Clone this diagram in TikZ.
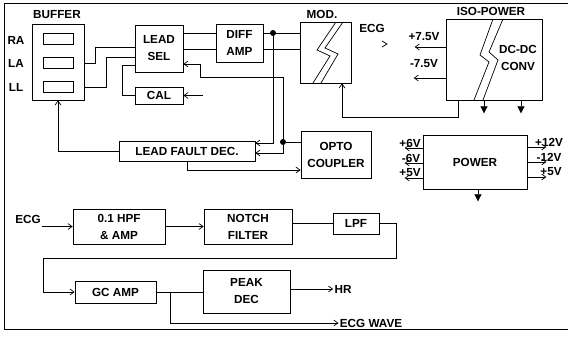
\documentclass[tikz,border=0pt]{standalone}
\usepackage{fontspec}
\setmainfont{Liberation Sans}
\usetikzlibrary{arrows.meta,calc}

\begin{document}
\begin{tikzpicture}[
    x=0.3mm, y=-0.3mm,
    % --- Styles ---
    blk/.style={draw, line width=0.6pt, inner sep=0pt, align=center,
                font=\fontsize{10}{14.5}\selectfont\bfseries},
    slot/.style={draw, line width=0.6pt, minimum width=9mm,
                 minimum height=3.4mm, inner sep=0pt},
    lbl/.style={font=\fontsize{10}{14.5}\selectfont\bfseries, inner sep=1pt},
    wire/.style={line width=0.6pt},
    arr/.style={wire, -{Straight Barb[length=3.5pt,width=5pt]}},
    pwr/.style={wire, -{Triangle[length=6pt,width=6pt]}},
    dot/.style={circle, fill, inner sep=0pt, minimum size=1.8mm},
]

% === Frame ===
\useasboundingbox (0,0) rectangle (568,340);
\draw[line width=0.8pt] (568,3) -- (4,3) -- (4,329) -- (568,329);

% === Input buffer ===
\node[lbl] (buftitle) at (57,15) {BUFFER};
\node[blk, minimum width=15.6mm, minimum height=22.8mm] (buffer) at (58,62) {};
\node[slot] (ra) at (58,39) {};
\node[slot] (la) at (58,63) {};
\node[slot] (ll) at (58,87) {};
\node[lbl] (ralbl) at (16,40) {RA};
\node[lbl] (lalbl) at (16,63) {LA};
\node[lbl] (lllbl) at (16,87) {LL};

% === Lead selection, amplifier, modulator ===
\node[blk, minimum width=14.4mm, minimum height=14.1mm] (leadsel) at (159,48.5) {LEAD\\SEL};
\node[blk, minimum width=14.4mm, minimum height=5.1mm] (cal) at (159,95.5) {CAL};
\node[blk, minimum width=14.1mm, minimum height=11.4mm] (diffamp) at (239.5,43) {DIFF\\AMP};
\node[blk, minimum width=15.3mm, minimum height=18.3mm] (mod) at (325.5,52.5) {};
\node[lbl] (modlbl) at (322,14) {MOD.};
\node[lbl] (ecgout) at (372,28) {ECG};
\draw[wire] (336,22) -- (317,50) -- (330,56) -- (313,83);
\draw[wire] (343,22) -- (325,48) -- (338,54) -- (321,83);
\draw[wire] (382,41) -- (387,44) -- (382,47);

% === Isolated supply ===
\node[blk, minimum width=28.8mm, minimum height=24.3mm] (isopower) at (494,59.5) {};
\node[lbl] (isolbl) at (491,11) {ISO-POWER};
\node[lbl, align=center] (isotext) at (518,58) {DC-DC\\CONV};
\draw[wire] (493,19) -- (480,55) -- (489,62) -- (474,100);
\draw[wire] (503,19) -- (489,52) -- (498,60) -- (483,100);
\node[lbl] (pisolbl) at (424,37) {+7.5V};
\node[lbl] (nisolbl) at (424,64) {-7.5V};

% === Fault detection and power ===
\node[blk, minimum width=40.8mm, minimum height=6mm] (leadfault) at (187,151) {LEAD FAULT DEC.};
\node[blk, minimum width=21mm, minimum height=14.1mm] (opto) at (336,154.5) {OPTO\\COUPLER};
\node[blk, minimum width=31.2mm, minimum height=16.2mm] (power) at (475,162) {POWER};
\node[lbl] (p6lbl) at (410,143) {+6V};
\node[lbl] (n6lbl) at (411,158) {-6V};
\node[lbl] (p5lbl) at (410,173) {+5V};
\node[lbl] (p12lbl) at (549,142) {+12V};
\node[lbl] (n12lbl) at (549,157) {-12V};
\node[lbl] (p5rlbl) at (551,172) {+5V};

% === Signal chain ===
\node[lbl] (ecgin) at (28,219) {ECG};
\node[blk, minimum width=27.6mm, minimum height=10.5mm] (hpf) at (119,226.5) {0.1 HPF\\\& AMP};
\node[blk, minimum width=26.4mm, minimum height=10.5mm] (notch) at (248,226.5) {NOTCH\\FILTER};
\node[blk, minimum width=13.8mm, minimum height=6.3mm] (lpf) at (356,223.5) {LPF};
\node[blk, minimum width=24.3mm, minimum height=6.6mm] (gcamp) at (115.5,292) {GC AMP};
\node[blk, minimum width=26.1mm, minimum height=12.9mm] (peakdec) at (246.5,291.5) {PEAK\\DEC};
\node[lbl] (hr) at (343,289) {HR};
\node[lbl] (ecgwave) at (371,323) {ECG WAVE};

% === Junctions ===
\node[dot] (j1) at (273,33) {};
\node[dot] (j2) at (283,142) {};

% === Front end wiring ===
\draw[wire] (la.east -| buffer.east) -- ++(11,0) |- (leadsel.west |- 0,47);
\draw[wire] (ll.east -| buffer.east) -- ++(22,0) |- (leadsel.west |- 0,57);
\draw[wire] (leadsel.west |- 0,65) -- ++(-12,0) |- (cal.west);
\draw[arr] (203,95.5) -- (cal.east);
\draw[wire] (leadsel.east |- 0,33) -- (diffamp.west |- 0,33);
\draw[wire] (leadsel.east |- 0,49) -- (diffamp.west |- 0,49);
\draw[wire] (diffamp.east |- 0,33) -- (mod.west |- 0,33);
\draw[wire] (diffamp.east |- 0,49) -- (mod.west |- 0,49);

% === Fault loop ===
\draw[arr] (j1) |- (leadfault.east |- 0,143);
\draw[wire] (j2) -- (opto.west |- j2);
\draw[arr] (j2) |- (leadfault.east |- 0,153);
\draw[arr] (j2) |- (200,77) |- (leadsel.east |- 0,64);
\draw[arr] (leadfault.south) |- (opto.west |- 0,170);
\draw[arr] (leadfault.west) -| (buffer.south);

% === Supplies ===
\draw[arr] (isopower.south -| 458,0) |- (342,117) -- (mod.south -| 342,0);
\draw[arr] (isopower.west |- 0,47) -- ++(-31,0);
\draw[arr] (isopower.west |- 0,78) -- ++(-32,0);
\draw[pwr] (isopower.south -| 484,0) -- ++(0,13);
\draw[pwr] (isopower.south -| 521,0) -- ++(0,13);
\draw[arr] (power.west |- 0,148) -- ++(-18,0);
\draw[arr] (power.west |- 0,163) -- ++(-18,0);
\draw[arr] (power.west |- 0,178) -- ++(-18,0);
\draw[arr] (power.east |- 0,147) -- ++(19,0);
\draw[arr] (power.east |- 0,162) -- ++(19,0);
\draw[arr] (power.east |- 0,177) -- ++(19,0);
\draw[pwr] (power.south -| 478,0) -- ++(0,12);

% === Signal chain wiring ===
\draw[arr] (ecgin.east |- hpf.west) -- (hpf.west);
\draw[arr] (hpf) -- (notch);
\draw[wire] (notch.east |- lpf) -- (lpf.west);
\draw[arr] (lpf.east) -- ++(17,0) |- (43,258) |- (gcamp.west);
\draw[wire] (gcamp.east) -- (peakdec.west |- gcamp.east);
\draw[arr] (peakdec.east |- hr) -- (hr.west);
\draw[arr] (gcamp.east -| 170,0) |- (ecgwave.west);

\end{tikzpicture}
\end{document}
